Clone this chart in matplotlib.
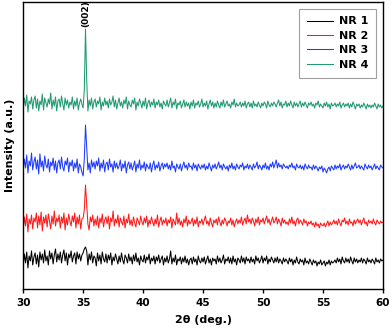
import numpy as np
import matplotlib
matplotlib.use("Agg")
import matplotlib.pyplot as plt

# 2theta grid, 0.1 deg step (one row = one degree)
two_theta = np.round(np.arange(30.0, 60.0001, 0.1), 1)

# intensities (arbitrary units)
nr1 = [14, 26, 17, 28, 12, 24, 19, 29, 15, 23,
       27, 16, 25, 13, 28, 20, 26, 17, 30, 19,
       24, 15, 29, 21, 27, 16, 25, 31, 18, 26,
       20, 28, 17, 25, 30, 19, 27, 15, 26, 22,
       29, 18, 24, 27, 16, 28, 21, 26, 19, 25,
       27, 31, 33, 29, 15, 26, 20, 28, 17, 24,
       22, 14, 27, 19, 25, 16, 28, 21, 18, 26,
       17, 25, 20, 27, 15, 23, 19, 26, 21, 16,
       24, 18, 27, 20, 16, 25, 22, 17, 26, 19,
       23, 16, 25, 19, 27, 18, 22, 15, 24, 20,
       18, 25, 17, 23, 20, 26, 16, 22, 19, 24,
       16, 23, 19, 25, 17, 21, 24, 15, 22, 18,
       24, 17, 21, 29, 16, 22, 18, 25, 15, 21,
       19, 23, 16, 22, 18, 24, 17, 21, 15, 20,
       22, 16, 23, 18, 21, 15, 24, 19, 17, 22,
       18, 23, 16, 20, 24, 17, 21, 15, 22, 19,
       21, 16, 24, 18, 22, 17, 20, 25, 16, 21,
       19, 23, 17, 22, 16, 24, 18, 21, 15, 22,
       20, 17, 24, 18, 22, 16, 23, 19, 21, 17,
       23, 18, 21, 16, 24, 19, 22, 17, 20, 24,
       17, 22, 19, 24, 16, 21, 18, 23, 20, 17,
       22, 18, 23, 17, 21, 19, 16, 22, 18, 21,
       19, 16, 22, 18, 21, 15, 20, 17, 23, 18,
       16, 21, 18, 20, 15, 22, 17, 19, 16, 21,
       18, 15, 20, 17, 19, 14, 18, 16, 20, 15,
       17, 19, 14, 18, 16, 20, 15, 19, 17, 18,
       20, 17, 22, 18, 21, 16, 23, 19, 17, 22,
       18, 21, 17, 23, 19, 16, 22, 18, 21, 17,
       20, 18, 22, 17, 21, 19, 16, 22, 18, 20,
       17, 21, 19, 16, 22, 18, 20, 17, 21, 19,
       20]
nr2 = [12, 25, 16, 28, 10, 23, 18, 27, 13, 24,
       20, 29, 14, 26, 17, 30, 11, 25, 19, 27,
       15, 28, 21, 13, 26, 18, 31, 16, 24, 20,
       27, 14, 25, 19, 29, 12, 24, 17, 28, 21,
       16, 26, 20, 29, 14, 25, 18, 27, 13, 23,
       24, 32, 57, 38, 18, 12, 25, 20, 27, 16,
       23, 17, 26, 14, 24, 19, 28, 15, 22, 25,
       18, 26, 13, 24, 20, 31, 16, 23, 19, 27,
       15, 24, 20, 17, 26, 14, 23, 19, 28, 17,
       22, 16, 25, 19, 15, 24, 21, 17, 26, 20,
       17, 24, 19, 26, 15, 22, 18, 25, 20, 16,
       23, 18, 27, 15, 21, 25, 17, 22, 19, 24,
       16, 22, 19, 25, 14, 23, 20, 17, 29, 18,
       24, 17, 21, 15, 23, 19, 26, 16, 22, 18,
       20, 24, 16, 22, 18, 25, 15, 21, 19, 23,
       17, 22, 26, 18, 21, 16, 24, 19, 15, 22,
       19, 23, 17, 25, 20, 16, 22, 18, 24, 21,
       16, 21, 19, 24, 17, 22, 15, 20, 23, 18,
       22, 19, 25, 17, 21, 24, 18, 27, 20, 23,
       18, 24, 21, 16, 23, 19, 25, 17, 22, 20,
       24, 18, 22, 26, 19, 23, 17, 21, 25, 19,
       21, 25, 18, 23, 20, 16, 24, 19, 22, 18,
       20, 17, 23, 19, 25, 18, 21, 16, 22, 24,
       18, 22, 20, 17, 23, 19, 21, 16, 20, 18,
       21, 17, 19, 15, 20, 16, 18, 14, 19, 17,
       16, 19, 15, 18, 21, 16, 20, 17, 19, 22,
       18, 21, 17, 23, 19, 16, 22, 20, 24, 18,
       21, 17, 23, 19, 20, 16, 22, 18, 21, 23,
       19, 22, 17, 21, 24, 18, 20, 16, 22, 19,
       21, 18, 23, 19, 17, 22, 20, 18, 21, 19,
       20]
nr3 = [16, 28, 19, 32, 14, 26, 21, 34, 17, 25,
       30, 18, 27, 13, 33, 20, 26, 16, 31, 22,
       19, 28, 15, 25, 21, 29, 17, 26, 14, 24,
       27, 18, 30, 20, 16, 26, 22, 29, 15, 25,
       21, 27, 16, 24, 19, 28, 14, 23, 20, 15,
       11, 28, 62, 40, 17, 24, 14, 27, 20, 25,
       18, 26, 21, 29, 16, 24, 19, 27, 15, 23,
       25, 17, 28, 20, 23, 15, 26, 19, 24, 18,
       21, 27, 16, 23, 19, 26, 14, 22, 25, 18,
       24, 17, 21, 26, 15, 23, 19, 27, 17, 22,
       19, 25, 16, 23, 20, 18, 24, 15, 22, 26,
       17, 22, 19, 25, 16, 21, 24, 18, 23, 20,
       24, 18, 22, 17, 26, 19, 21, 15, 23, 20,
       18, 23, 16, 21, 25, 19, 22, 17, 24, 20,
       21, 17, 24, 19, 22, 16, 23, 20, 18, 22,
       19, 23, 17, 21, 18, 24, 20, 16, 22, 19,
       23, 18, 21, 25, 19, 22, 17, 23, 20, 18,
       21, 16, 22, 19, 24, 18, 21, 17, 23, 20,
       18, 22, 20, 24, 17, 21, 19, 23, 18, 22,
       20, 17, 23, 19, 21, 25, 18, 22, 20, 17,
       22, 19, 24, 18, 21, 17, 23, 20, 25, 19,
       23, 27, 19, 24, 20, 22, 18, 23, 21, 19,
       21, 18, 22, 20, 24, 19, 21, 17, 23, 20,
       19, 22, 18, 21, 17, 23, 20, 18, 22, 19,
       20, 17, 22, 18, 21, 19, 16, 20, 18, 21,
       15, 19, 17, 14, 18, 20, 16, 21, 19, 17,
       22, 18, 21, 19, 23, 17, 20, 22, 18, 21,
       19, 23, 20, 17, 22, 18, 21, 24, 19, 20,
       22, 18, 21, 19, 17, 23, 20, 18, 22, 19,
       21, 17, 20, 23, 18, 21, 19, 17, 22, 20,
       19]
nr4 = [15, 27, 19, 30, 13, 24, 21, 28, 16, 25,
       29, 17, 26, 14, 24, 20, 31, 15, 27, 22,
       18, 26, 21, 32, 16, 25, 19, 28, 14, 24,
       26, 18, 29, 21, 15, 27, 20, 25, 17, 23,
       20, 28, 16, 24, 19, 27, 15, 22, 26, 21,
       17, 35, 96, 45, 14, 25, 19, 27, 16, 23,
       26, 18, 24, 21, 28, 15, 23, 19, 27, 20,
       24, 17, 26, 20, 23, 29, 18, 25, 16, 22,
       27, 19, 23, 17, 25, 21, 28, 16, 24, 20,
       18, 25, 21, 27, 15, 23, 19, 26, 22, 17,
       24, 19, 27, 16, 22, 25, 18, 23, 20, 26,
       17, 23, 20, 25, 18, 22, 16, 24, 21, 19,
       25, 18, 22, 27, 17, 23, 20, 26, 16, 22,
       20, 24, 17, 21, 25, 18, 23, 19, 22, 16,
       23, 19, 25, 17, 22, 20, 24, 18, 21, 26,
       18, 22, 19, 24, 16, 21, 25, 19, 23, 17,
       22, 18, 24, 20, 17, 23, 19, 25, 18, 21,
       24, 19, 21, 17, 23, 20, 26, 18, 22, 19,
       20, 23, 18, 22, 19, 24, 17, 21, 23, 18,
       22, 17, 24, 19, 21, 18, 23, 20, 17, 22,
       19, 23, 21, 17, 24, 20, 18, 22, 19, 23,
       21, 18, 22, 25, 19, 23, 17, 21, 20, 24,
       18, 22, 19, 24, 20, 17, 23, 19, 22, 18,
       21, 24, 18, 22, 19, 23, 20, 17, 22, 20,
       23, 19, 21, 17, 22, 20, 24, 18, 21, 19,
       17, 22, 19, 23, 18, 21, 16, 22, 19, 20,
       22, 18, 21, 19, 23, 17, 20, 22, 18, 21,
       19, 22, 17, 21, 18, 23, 20, 16, 21, 19,
       21, 17, 20, 18, 22, 19, 16, 21, 18, 20,
       17, 20, 18, 22, 19, 16, 21, 18, 20, 17,
       19]

labels = ["NR 1", "NR 2", "NR 3", "NR 4"]
colors = ["#000000", "#ff1a1a", "#1f3bff", "#1f9a72"]
offsets = [9, 47, 102, 164]  # vertical stacking


def main():
    fig = plt.figure(figsize=(3.92, 3.36), dpi=100)
    ax = fig.add_axes([0.059, 0.14, 0.918, 0.854])

    for y, lab, c, off in zip([nr1, nr2, nr3, nr4], labels, colors, offsets):
        ax.plot(two_theta, np.array(y) + off, color=c, lw=0.75, label=lab)

    ax.text(35.25, 262, "(002)", rotation=90, ha="center", va="bottom",
            fontsize=6.5, fontweight="bold")

    ax.set_xlim(30, 60)
    ax.set_ylim(0, 287)
    ax.set_xticks(np.arange(30, 61, 5))
    ax.set_yticks([])
    ax.tick_params(axis="x", labelsize=7.5, width=1, length=3)
    for t in ax.get_xticklabels():
        t.set_fontweight("bold")
    for s in ax.spines.values():
        s.set_linewidth(1)

    ax.set_xlabel("2\u03b8 (deg.)", fontsize=8, fontweight="bold", labelpad=5)
    ax.set_ylabel("Intensity (a.u.)", fontsize=8, fontweight="bold", labelpad=6)

    leg = ax.legend(loc="upper right", fontsize=8, frameon=True, fancybox=False,
                    handlelength=2.4, handletextpad=0.5, borderpad=0.7,
                    labelspacing=0.4, borderaxespad=0.6)
    leg.get_frame().set_edgecolor("#888888")
    leg.get_frame().set_linewidth(0.8)
    for t in leg.get_texts():
        t.set_fontweight("bold")

    fig.savefig("out.png", dpi=100)


if __name__ == "__main__":
    main()
